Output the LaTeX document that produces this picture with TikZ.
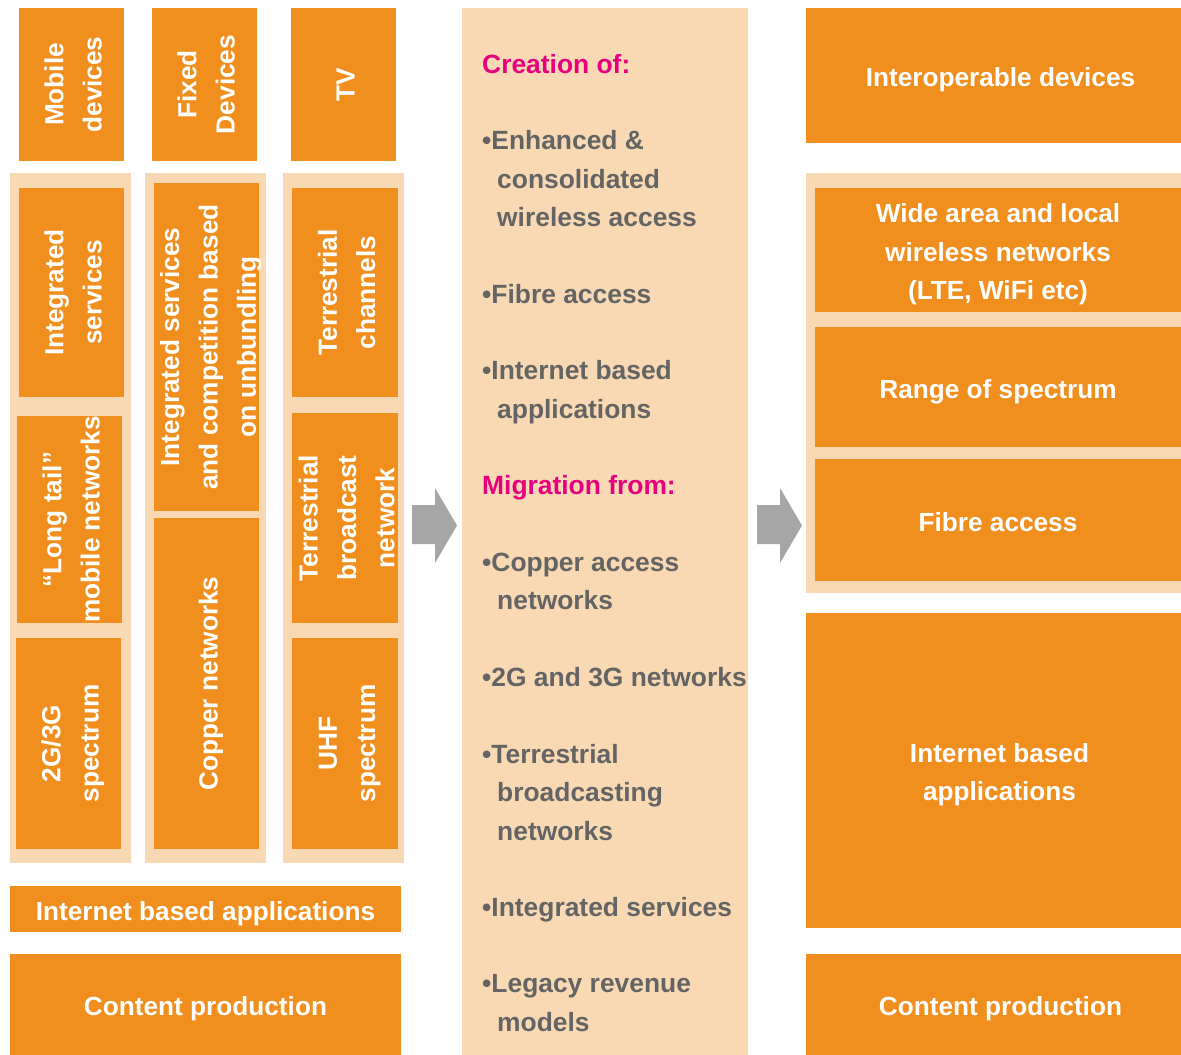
\documentclass[tikz,border=0pt]{standalone}
\usepackage{fontspec}
\setmainfont{Liberation Sans}
\definecolor{boxor}{RGB}{241,143,30}
\definecolor{patcol}{RGB}{249,217,180}
\definecolor{magtxt}{RGB}{230,0,126}
\definecolor{graytxt}{RGB}{100,100,100}
\definecolor{arrgray}{RGB}{166,166,166}
\newcommand{\tst}{\rule[-0.26em]{0pt}{1.36em}}
\tikzset{
  obox/.style={fill=boxor, draw=none, inner sep=0pt, text=white, align=center,
    font=\bfseries\fontsize{26.2}{38.3}\selectfont},
  vbox/.style={obox, rotate=90},
  tight/.style={inner ysep=-6pt},
  patbg/.style={fill=patcol, draw=none},
  midline/.style={anchor=base west, inner sep=0pt, text=graytxt,
    font=\bfseries\fontsize{26.4}{38.3}\selectfont},
  midhead/.style={midline, text=magtxt},
  blockarrow/.style={fill=arrgray, draw=none}
}
\begin{document}
\begin{tikzpicture}[x=1pt, y=-1pt]
\useasboundingbox (0,0) rectangle (1181,1055);
\clip (0,0) rectangle (1181,1055);
% patterned backgrounds
\fill[patbg] (10,173) rectangle (131,863);
\fill[patbg] (145,173) rectangle (266,863);
\fill[patbg] (283,173) rectangle (404,863);
\fill[patbg] (462,8) rectangle (748,1055);
\fill[patbg] (806,173) rectangle (1181,593);
% top row
\node[vbox, minimum width=153, minimum height=105] (mob) at (71.5,84.5) {\tst Mobile\\\tst devices};
\node[vbox, minimum width=153, minimum height=105] (fix) at (204.5,84.5) {\tst Fixed\\\tst Devices};
\node[vbox, minimum width=153, minimum height=105] (tv) at (343.5,84.5) {\tst TV};
% column 1
\node[vbox, minimum width=209, minimum height=105] (is1) at (71.5,292.5) {\tst Integrated\\\tst services};
\node[vbox, minimum width=207, minimum height=105] (lt) at (69.5,519.5) {\tst “Long tail”\\\tst mobile networks};
\node[vbox, minimum width=211, minimum height=105] (sp1) at (68.5,743.5) {\tst 2G/3G\\\tst spectrum};
% column 2
\node[vbox, tight, minimum width=328, minimum height=105] (isc) at (206.5,347) {\tst Integrated services\\\tst and competition based\\\tst on unbundling};
\node[vbox, minimum width=331, minimum height=105] (cop) at (206.5,683.5) {\tst Copper networks};
% column 3
\node[vbox, minimum width=209, minimum height=106] (tc) at (345,292.5) {\tst Terrestrial\\\tst channels};
\node[vbox, tight, minimum width=210, minimum height=106] (tb) at (345,518) {\tst Terrestrial\\\tst broadcast\\\tst network};
\node[vbox, minimum width=211, minimum height=106] (uhf) at (345,743.5) {\tst UHF\\\tst spectrum};
% bottom left
\node[obox, minimum width=391, minimum height=46] (iba) at (205.5,909) {\tst Internet based applications};
\node[obox, minimum width=391, minimum height=101] (cp1) at (205.5,1004.5) {\tst Content production};
% right column
\node[obox, minimum width=389, minimum height=135] (iod) at (1000.5,75.5) {\tst Interoperable devices};
\node[obox, minimum width=366, minimum height=124] (wide) at (998,250) {\tst Wide area and local\\\tst wireless networks\\\tst (LTE, WiFi etc)};
\node[obox, minimum width=366, minimum height=120] (ros) at (998,387) {\tst Range of spectrum};
\node[obox, minimum width=366, minimum height=122] (fib) at (998,520) {\tst Fibre access};
\node[obox, minimum width=387, minimum height=315] (iba2) at (999.5,770.5) {\tst Internet based\\\tst applications};
\node[obox, minimum width=389, minimum height=101] (cp2) at (1000.5,1004.5) {\tst Content production};
% block arrows
\fill[blockarrow] (412,505) -- (435,505) -- (435,488) -- (457,525.5) -- (435,563) -- (435,544) -- (412,544) -- cycle;
\fill[blockarrow] (757,505) -- (780,505) -- (780,488) -- (802,525.5) -- (780,563) -- (780,544) -- (757,544) -- cycle;
% middle column text
\node[midhead] (m0) at (482,73) {Creation of:};
\node[midline] (m1) at (482,149.7) {•Enhanced \&};
\node[midline] (m2) at (497,188) {consolidated};
\node[midline] (m3) at (497,226.4) {wireless access};
\node[midline] (m4) at (482,303) {•Fibre access};
\node[midline] (m5) at (482,379.8) {•Internet based};
\node[midline] (m6) at (497,418) {applications};
\node[midhead] (m7) at (482,494.9) {Migration from:};
\node[midline] (m8) at (482,571.5) {•Copper access};
\node[midline] (m9) at (497,609.9) {networks};
\node[midline] (m10) at (482,686) {•2G and 3G networks};
\node[midline] (m11) at (482,763) {•Terrestrial};
\node[midline] (m12) at (497,801.6) {broadcasting};
\node[midline] (m13) at (497,840) {networks};
\node[midline] (m14) at (482,916.2) {•Integrated services};
\node[midline] (m15) at (482,992.8) {•Legacy revenue};
\node[midline] (m16) at (497,1031.2) {models};
\end{tikzpicture}
\end{document}
